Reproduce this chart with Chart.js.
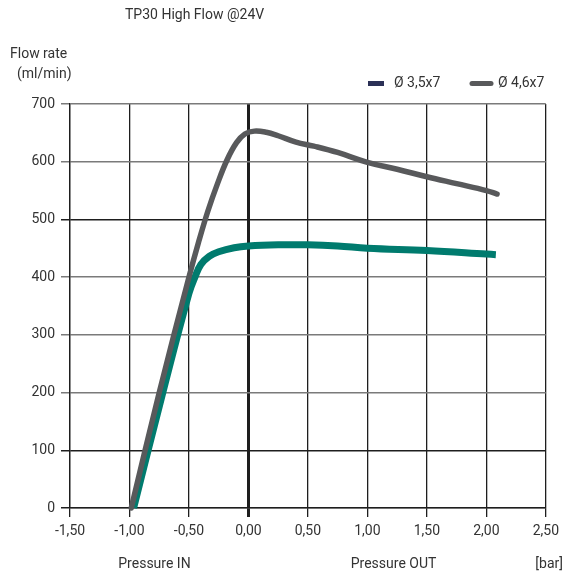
<!DOCTYPE html>
<html>
<head>
<meta charset="utf-8">
<script src="https://cdn.jsdelivr.net/npm/chart.js@4.4.0/dist/chart.umd.min.js"></script>
<style>
html, body { margin: 0; padding: 0; background: #fff; }
</style>
</head>
<body>
<canvas id="chart" width="565" height="577"></canvas>
<script>
// values
const xTickLabels = ['-1,50', '-1,00', '-0,50', '0,00', '0,50', '1,00', '1,50', '2,00', '2,50']
const seriesNames = ['Ø 3,5x7', 'Ø 4,6x7']

// Ø 3,5x7 (pressure [bar], flow [ml/min])
const smallX = [-0.965, -0.72, -0.50, -0.45, -0.40, -0.33, -0.25, -0.12, 0.00, 0.25, 0.50, 0.75, 1.00, 1.50, 2.00, 2.08]
const smallY = [0, 200, 372, 400, 422, 436, 444, 451, 454, 456, 456, 454, 450, 446, 440, 439]

// Ø 4,6x7
const bigX = [-0.985, -0.75, -0.50, -0.42, -0.34, -0.26, -0.18, -0.10, -0.03, 0.05, 0.15, 0.25, 0.40, 0.55, 0.75, 1.00, 1.25, 1.50, 1.75, 2.00, 2.09]
const bigY = [0, 200, 400, 460, 515, 562, 603, 633, 648, 653, 651, 645, 634, 627, 616, 599, 587, 574, 562, 550, 544]

const FONT = 'Roboto, "DejaVu Sans", sans-serif'
const TXT = '#333'

const toPoints = (xs, ys) => xs.map((x, i) => ({ x: x, y: ys[i] }))

const textPlugin = {
    id: 'texts',
    afterDraw(chart) {
        const c = chart.ctx
        const xs = chart.scales.x
        c.save()
        c.fillStyle = TXT
        c.font = '14px ' + FONT
        c.textBaseline = 'middle'
        c.textAlign = 'left'
        c.fillText('TP30 High Flow @24V', 125, 15)
        c.fillText('Flow rate', 10, 54)
        c.fillText('(ml/min)', 17, 74)

        // legend
        c.fillStyle = '#2b3056'
        c.fillRect(368, 81, 16, 5)
        c.strokeStyle = '#58595b'
        c.lineWidth = 5
        c.lineCap = 'round'
        c.beginPath()
        c.moveTo(472, 83.5)
        c.lineTo(491, 83.5)
        c.stroke()
        c.fillStyle = TXT
        c.fillText(seriesNames[0], 394, 83)
        c.fillText(seriesNames[1], 498, 83)

        // axis captions
        c.textAlign = 'center'
        c.fillText('Pressure IN', xs.getPixelForValue(-0.79), 564)
        c.fillText('Pressure OUT', xs.getPixelForValue(1.22), 564)
        c.textAlign = 'right'
        c.fillText('[bar]', 563, 564)
        c.restore()
    }
}

new Chart('chart', {
    type: 'scatter',
    data: {
        datasets: [
            {
                label: seriesNames[0],
                data: toPoints(smallX, smallY),
                showLine: true,
                borderColor: '#007b6e',
                borderWidth: 7,
                borderCapStyle: 'butt',
                borderJoinStyle: 'round',
                pointRadius: 0,
                tension: 0.4,
                clip: false,
                order: 1
            },
            {
                label: seriesNames[1],
                data: toPoints(bigX, bigY),
                showLine: true,
                borderColor: '#58595b',
                borderWidth: 5.5,
                borderCapStyle: 'round',
                borderJoinStyle: 'round',
                pointRadius: 0,
                tension: 0.4,
                clip: false,
                order: 0
            }
        ]
    },
    options: {
        responsive: false,
        animation: false,
        layout: { padding: { top: 104, right: 14, bottom: 0, left: 0 } },
        plugins: {
            legend: { display: false },
            title: { display: false },
            tooltip: { enabled: false }
        },
        scales: {
            x: {
                type: 'linear',
                min: -1.5,
                max: 2.5,
                afterFit: s => { s.height = 69 },
                ticks: {
                    stepSize: 0.5,
                    padding: 6,
                    color: TXT,
                    font: { family: FONT, size: 14 },
                    callback: (v, i) => xTickLabels[i]
                },
                grid: {
                    color: '#1e1e1e',
                    lineWidth: ctx => (ctx.tick && ctx.tick.value === 0 ? 3 : 1.3),
                    tickLength: 9
                },
                border: { color: '#1e1e1e', width: 1.3 }
            },
            y: {
                min: 0,
                max: 700,
                afterFit: s => { s.width = 70 },
                ticks: {
                    stepSize: 100,
                    padding: 6,
                    color: TXT,
                    font: { family: FONT, size: 14 }
                },
                grid: {
                    color: ctx => ([0, 100, 500].includes(ctx.tick && ctx.tick.value) ? '#1e1e1e' : '#7a7a7a'),
                    lineWidth: 1.5,
                    tickLength: 9
                },
                border: { color: '#1e1e1e', width: 1.3 }
            }
        }
    },
    plugins: [textPlugin]
})
</script>
</body>
</html>
